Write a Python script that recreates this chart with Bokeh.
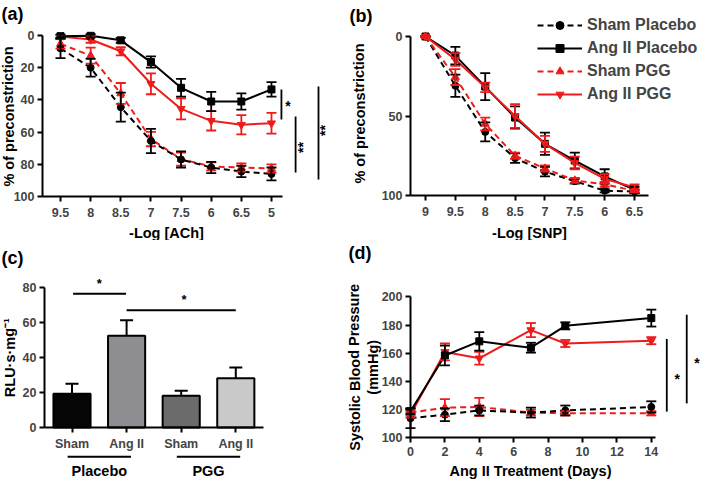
import math
from bokeh.plotting import figure
from bokeh.models import (Range1d, FixedTicker, Whisker, TeeHead, ColumnDataSource,
                          Legend, LegendItem)
from bokeh.layouts import row, column
from bokeh.embed import file_html
from bokeh.resources import INLINE
from bokeh.core.properties import value

FONT = "Liberation Sans"
RED = "#ee1b1b"

# ---------------- data ----------------
series_names = ["Sham Placebo", "Ang II Placebo", "Sham PGG", "Ang II PGG"]

# panel (a): -Log [ACh]
a_ticks = ["9.5", "8", "8.5", "7", "7.5", "6", "6.5", "5"]
a_sham_placebo = [8, 20, 44.5, 65.5, 77, 82, 84.5, 86]
a_sham_placebo_err = [6, 5.5, 9, 7.5, 5, 3.5, 3.5, 4]
a_ang_placebo = [0.4, 0.2, 3, 16.5, 32.5, 41, 41, 33.5]
a_ang_placebo_err = [1, 1, 1.5, 3.5, 5.5, 6, 5, 4.5]
a_sham_pgg = [5.2, 12.5, 36, 64.3, 76.8, 81.3, 82, 82.6]
a_sham_pgg_err = [3, 5, 6.5, 4.5, 4, 2.5, 2.5, 2.5]
a_ang_pgg = [0.6, 2.5, 9.8, 30, 45.6, 53, 55.4, 54.5]
a_ang_pgg_err = [1, 2, 2.5, 6.5, 6.5, 6, 6, 6.5]

# panel (b): -Log [SNP]
b_ticks = ["9", "9.5", "8", "8.5", "7", "7.5", "6", "6.5"]
b_sham_placebo = [0, 31, 60, 76.5, 85, 91, 97, 97.5]
b_sham_placebo_err = [0, 7, 6, 3, 3, 1.5, 1, 1]
b_ang_placebo = [0, 12, 31.5, 51, 67.5, 78, 88, 96.5]
b_ang_placebo_err = [0, 5.5, 8.5, 7, 7, 5, 4.5, 2]
b_sham_pgg = [0, 25.5, 55, 75, 83, 90.5, 93, 97]
b_sham_pgg_err = [0, 5, 4, 2, 2, 1.5, 1.5, 1]
b_ang_pgg = [0, 14.5, 32, 50, 67.5, 79.5, 89.5, 95]
b_ang_pgg_err = [0, 4, 3, 7.5, 5, 4, 3, 2]

# panel (c): RLU
c_labels = ["Sham", "Ang II", "Sham", "Ang II"]
c_groups = ["Placebo", "PGG"]
c_values = [19.3, 52.4, 18.2, 28.1]
c_err = [5.7, 8.8, 2.8, 6.1]
c_colors = ["#050505", "#8e8e92", "#6b6b6b", "#c9c9c9"]

# panel (d): systolic blood pressure
d_days = [0, 2, 4, 7, 9, 14]
d_sham_placebo = [114, 116.5, 119.5, 118, 119.5, 122]
d_sham_placebo_err = [7, 4.5, 3.5, 3.5, 3.5, 4]
d_ang_placebo = [119, 158.5, 168.5, 164, 179.5, 185]
d_ang_placebo_err = [2, 7, 6.5, 3.5, 2.5, 6]
d_sham_pgg = [118, 121.5, 122, 118, 117.5, 117.5]
d_sham_pgg_err = [2, 6, 6.5, 2, 1.5, 1.5]
d_ang_pgg = [116.5, 161, 156.5, 176.5, 167, 169]
d_ang_pgg_err = [2, 6, 4.5, 5, 2.5, 2.5]

# significance annotations
a_sig_bars = [(7.33, 33.5, 52.2), (7.8, 50.3, 85.1), (8.56, 31.7, 89.4)]
a_sig_text = [(7.55, 43.5, "*", 0), (8.05, 69.6, "**", 90), (8.78, 59.0, "**", 90)]
c_sig_bars = [(0.02, 0.99, 76.3), (1.0, 3.0, 66.9)]
c_sig_text = [(0.5, 82.0, "*"), (2.05, 73.0, "*")]
d_sig_bars = [(14.9, 118.7, 170.2), (16.06, 124.5, 187.4)]
d_sig_text = [(15.5, 142.0, "*"), (16.65, 153.0, "*")]

styles = {
    "Sham Placebo": dict(color="black", dash="6 4", marker="circle", size=7),
    "Ang II Placebo": dict(color="black", dash="solid", marker="square", size=7),
    "Sham PGG": dict(color=RED, dash="6 4", marker="triangle", size=8),
    "Ang II PGG": dict(color=RED, dash="solid", marker="inverted_triangle", size=8),
}


class Panel:
    """A figure whose frame covers its whole canvas; axes sit at fixed locations."""

    def __init__(self, ox, oy, w, h, xmap, ymap, axis_x, axis_y):
        # xmap/ymap: (page_px, data_value, px_per_unit)
        self.xmap, self.ymap = xmap, ymap
        X, Y = self.X, self.Y
        p = figure(width=w, height=h,
                   x_range=Range1d(X(ox), X(ox + w)),
                   y_range=Range1d(Y(oy + h), Y(oy)),
                   output_backend="svg", toolbar_location=None,
                   min_border_left=0, min_border_right=0,
                   min_border_top=0, min_border_bottom=0)
        p.outline_line_color = None
        p.xgrid.visible = False
        p.ygrid.visible = False
        p.background_fill_color = "white"
        p.border_fill_color = "white"
        p.yaxis.fixed_location = X(axis_x)
        p.xaxis.fixed_location = Y(axis_y)
        for ax in (p.xaxis[0], p.yaxis[0]):
            ax.axis_line_width = 2
            ax.major_tick_line_width = 2
            ax.major_tick_out = 5
            ax.major_tick_in = 0
            ax.minor_tick_line_color = None
            ax.major_label_text_font = FONT
            ax.major_label_text_font_style = "bold"
            ax.major_label_text_font_size = "12.5px"
            ax.major_label_standoff = 3
        p.xaxis.major_label_standoff = 6
        self.p = p

    def X(self, page):
        m = self.xmap
        return m[1] + (page - m[0]) / m[2]

    def Y(self, page):
        m = self.ymap
        return m[1] + (page - m[0]) / m[2]

    def text(self, page_x, page_y, txt, size="14.5px", angle=0, align="center"):
        self.p.text(x=[self.X(page_x)], y=[self.Y(page_y)], text=[txt],
                    angle=[math.radians(angle)], text_font=value(FONT),
                    text_font_style="bold", text_font_size=size,
                    text_align=align, text_baseline="middle")


def add_series(p, xs, name, vals, errs, legend_items=None):
    st = styles[name]
    lr = p.line(xs, vals, line_color=st["color"], line_width=2, line_dash=st["dash"])
    sr = p.scatter(xs, vals, marker=st["marker"], size=st["size"],
                   fill_color=st["color"], line_color=st["color"])
    src = ColumnDataSource(dict(x=xs, upper=[v + e for v, e in zip(vals, errs)],
                                lower=[v - e for v, e in zip(vals, errs)]))
    p.add_layout(Whisker(base="x", upper="upper", lower="lower", source=src,
                         line_color=st["color"], line_width=1.8, level="glyph",
                         upper_head=TeeHead(size=10, line_color=st["color"], line_width=1.8),
                         lower_head=TeeHead(size=10, line_color=st["color"], line_width=1.8)))
    if legend_items is not None:
        legend_items.append(LegendItem(label=name, renderers=[lr, sr]))


def sig_vertical(p, bars, texts, size="14px"):
    p.segment(x0=[s[0] for s in bars], y0=[s[1] for s in bars],
              x1=[s[0] for s in bars], y1=[s[2] for s in bars],
              line_color="black", line_width=1.8)
    p.text(x=[s[0] for s in texts], y=[s[1] for s in texts], text=[s[2] for s in texts],
           angle=[math.radians(s[3]) if len(s) > 3 else 0 for s in texts],
           text_font=value(FONT), text_font_style="bold", text_font_size=size,
           text_align="center", text_baseline="middle")


# ---------------- panel (a) ----------------
A = Panel(8, 0, 337, 240, (68, 0, 30.14), (35, 0, 1.61), axis_x=50, axis_y=196)
pa = A.p
ax_idx = list(range(len(a_ticks)))
pa.xaxis.ticker = FixedTicker(ticks=ax_idx)
pa.xaxis.major_label_overrides = {i: t for i, t in enumerate(a_ticks)}
pa.xaxis.bounds = (A.X(50), A.X(290))
pa.yaxis.ticker = FixedTicker(ticks=[0, 20, 40, 60, 80, 100])
pa.yaxis.bounds = (0, 100)
for name, v, e in [("Sham PGG", a_sham_pgg, a_sham_pgg_err),
                   ("Ang II PGG", a_ang_pgg, a_ang_pgg_err),
                   ("Sham Placebo", a_sham_placebo, a_sham_placebo_err),
                   ("Ang II Placebo", a_ang_placebo, a_ang_placebo_err)]:
    add_series(pa, ax_idx, name, v, e)
sig_vertical(pa, a_sig_bars, a_sig_text)
A.text(174, 232, "-Log [ACh]")
A.text(16, 116, "% of preconstriction", angle=90)
A.text(9, 13, "(a)", size="18px", align="left")

# ---------------- panel (b) ----------------
B = Panel(345, 0, 363, 240, (433, 0, 29.86), (36, 0, 1.59), axis_x=418, axis_y=195)
pb = B.p
bx_idx = list(range(len(b_ticks)))
pb.xaxis.ticker = FixedTicker(ticks=bx_idx)
pb.xaxis.major_label_overrides = {i: t for i, t in enumerate(b_ticks)}
pb.xaxis.bounds = (B.X(418), B.X(656))
pb.yaxis.ticker = FixedTicker(ticks=[0, 50, 100])
pb.yaxis.bounds = (0, 100)
items = []
for name, v, e in [("Sham Placebo", b_sham_placebo, b_sham_placebo_err),
                   ("Ang II Placebo", b_ang_placebo, b_ang_placebo_err),
                   ("Sham PGG", b_sham_pgg, b_sham_pgg_err),
                   ("Ang II PGG", b_ang_pgg, b_ang_pgg_err)]:
    add_series(pb, bx_idx, name, v, e, items)
legend = Legend(items=items, location=(200, 136), border_line_color=None,
                background_fill_alpha=0, label_text_font=FONT, label_text_font_style="bold",
                label_text_font_size="16px", glyph_width=45, glyph_height=20,
                label_height=20, spacing=3, padding=0, margin=0, label_standoff=5)
pb.add_layout(legend)
B.text(537, 232, "-Log [SNP]")
B.text(367, 113, "% of preconstriction", angle=90)
B.text(357, 15, "(b)", size="18px", align="left")


# row 2 is compressed slightly so the page fits the window
def r2(y):
    return 240 + (y - 240) * 0.968


# ---------------- panel (c) ----------------
C = Panel(8, 240, 337, 240, (79.5, 0, 54.6), (r2(433.3), 0, -(r2(433.3) - r2(288.3)) / 80),
          axis_x=52, axis_y=r2(433.3))
pc = C.p
cx_idx = list(range(len(c_labels)))
pc.vbar(x=cx_idx, top=c_values, width=0.68, fill_color=c_colors,
        line_color="black", line_width=2)
csrc = ColumnDataSource(dict(x=cx_idx, lower=c_values,
                             upper=[v + e for v, e in zip(c_values, c_err)]))
pc.add_layout(Whisker(base="x", upper="upper", lower="lower", source=csrc,
                      line_color="black", line_width=2, level="underlay",
                      upper_head=TeeHead(size=13, line_color="black", line_width=2),
                      lower_head=None))
pc.xaxis.ticker = FixedTicker(ticks=cx_idx)
pc.xaxis.major_label_overrides = {i: t for i, t in enumerate(c_labels)}
pc.xaxis.bounds = (-0.5, 3.5)
pc.xaxis.major_label_standoff = 4
pc.yaxis.ticker = FixedTicker(ticks=[0, 20, 40, 60, 80])
pc.yaxis.bounds = (0, 80)
pc.segment(x0=[s[0] for s in c_sig_bars], y0=[s[2] for s in c_sig_bars],
           x1=[s[1] for s in c_sig_bars], y1=[s[2] for s in c_sig_bars],
           line_color="black", line_width=2)
pc.text(x=[s[0] for s in c_sig_text], y=[s[1] for s in c_sig_text],
        text=[s[2] for s in c_sig_text], text_font=value(FONT), text_font_style="bold",
        text_font_size="13px", text_align="center", text_baseline="middle")
# group underlines and labels
g_lo = [2 * gi - 0.08 for gi in range(len(c_groups))]
g_hi = [2 * gi + 1.08 for gi in range(len(c_groups))]
yl = C.Y(r2(463.3))
pc.segment(x0=g_lo, y0=[yl] * len(c_groups), x1=g_hi, y1=[yl] * len(c_groups),
           line_color="black", line_width=2)
pc.text(x=[2 * gi + 0.5 for gi in range(len(c_groups))], y=[C.Y(r2(478))] * len(c_groups),
        text=c_groups, text_font=value(FONT), text_font_style="bold",
        text_font_size="14.5px", text_align="center", text_baseline="middle")
C.text(17, r2(361), "RLU·s·mg⁻¹", angle=90)
C.text(9, r2(258), "(c)", size="18px", align="left")

# ---------------- panel (d) ----------------
D = Panel(345, 240, 363, 240, (418, 0, 17.2), (r2(444), 100, -(r2(444) - r2(298.3)) / 100),
          axis_x=418, axis_y=r2(444))
pd = D.p
pd.xaxis.ticker = FixedTicker(ticks=list(range(0, 15, 2)))
pd.xaxis.bounds = (0, 14.25)
pd.yaxis.ticker = FixedTicker(ticks=list(range(100, 201, 20)))
pd.yaxis.bounds = (100, 200)
pd.xaxis.major_label_standoff = 4
for name, v, e in [("Sham PGG", d_sham_pgg, d_sham_pgg_err),
                   ("Sham Placebo", d_sham_placebo, d_sham_placebo_err),
                   ("Ang II PGG", d_ang_pgg, d_ang_pgg_err),
                   ("Ang II Placebo", d_ang_placebo, d_ang_placebo_err)]:
    add_series(pd, d_days, name, v, e)
sig_vertical(pd, d_sig_bars, d_sig_text)
D.text(538, r2(478), "Ang II Treatment (Days)")
D.text(362, r2(371), "Systolic Blood Pressure", angle=90)
D.text(380, r2(371), "(mmHg)", angle=90)
D.text(356, r2(253), "(d)", size="18px", align="left")

layout = column(row(pa, pb), row(pc, pd))
open("out.html", "w").write(file_html(layout, INLINE))
